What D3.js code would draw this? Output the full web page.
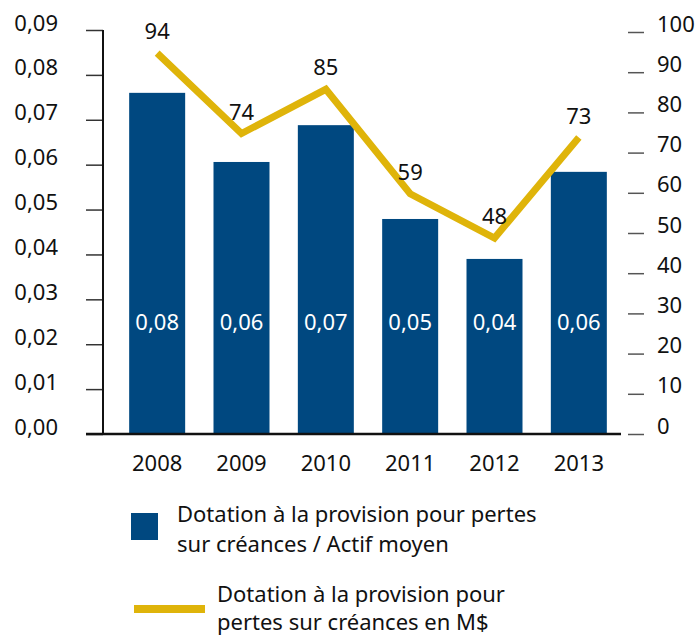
<!DOCTYPE html>
<html>
<head>
<meta charset="utf-8">
<script src="https://cdn.jsdelivr.net/npm/d3@7"></script>
<style>
  body { margin: 0; background: #fff; }
  svg { font-family: "Noto Sans", sans-serif; }
</style>
</head>
<body>
<div id="chart"></div>
<script>
const years = ["2008", "2009", "2010", "2011", "2012", "2013"];
const ratio = [0.076, 0.0606, 0.0688, 0.0479, 0.039, 0.0584];
const ratioLabels = ["0,08", "0,06", "0,07", "0,05", "0,04", "0,06"];
const provision = [94, 74, 85, 59, 48, 73];
const leftTicks = [0, 0.01, 0.02, 0.03, 0.04, 0.05, 0.06, 0.07, 0.08, 0.09];
const rightTicks = [0, 10, 20, 30, 40, 50, 60, 70, 80, 90, 100];
const legendBar = ["Dotation à la provision pour pertes", "sur créances / Actif moyen"];
const legendLine = ["Dotation à la provision pour", "pertes sur créances en M$"];

const barColor = "#004880";
const lineColor = "#dfb40a";
const width = 700;
const height = 636;
const fs = 22;

const svg = d3.select("#chart")
  .append("svg")
  .attr("width", width)
  .attr("height", height);

const x = d3.scaleBand()
  .domain(years)
  .range([115, 621])
  .paddingInner(0.336)
  .paddingOuter(0.168);

const yL = d3.scaleLinear().domain([0, 0.09]).range([434, 30]);
const yR = d3.scaleLinear().domain([0, 100]).range([434, 32]);
// the line itself sits a few pixels higher than the right ticks in the original
const yLine = d3.scaleLinear().domain([0, 100]).range([431, 29]);

const fmt = (d) => d3.format(".2f")(d).replace(".", ",");

// left axis
const leftAxis = svg.append("g")
  .attr("transform", "translate(103,0)")
  .call(d3.axisLeft(yL).tickValues(leftTicks).tickSize(17).tickFormat(fmt));
leftAxis.select(".domain").remove();
leftAxis.selectAll(".tick line").attr("stroke", "#333").attr("stroke-width", 1.5);
leftAxis.selectAll(".tick text")
  .attr("x", -45)
  .attr("y", -7)
  .attr("font-size", fs)
  .attr("fill", "#111")
  .attr("font-family", "Noto Sans");

svg.append("line")
  .attr("x1", 103).attr("x2", 103)
  .attr("y1", 30).attr("y2", 435)
  .attr("stroke", "#111").attr("stroke-width", 2);

// right axis
const rightAxis = svg.append("g")
  .attr("transform", "translate(628,0)")
  .call(d3.axisRight(yR).tickValues(rightTicks).tickSize(16).tickFormat(d3.format("d")));
rightAxis.select(".domain").remove();
rightAxis.selectAll(".tick line").attr("stroke", "#555").attr("stroke-width", 1.5);
rightAxis.selectAll(".tick text")
  .attr("x", 29)
  .attr("y", -8)
  .attr("font-size", fs)
  .attr("fill", "#111")
  .attr("font-family", "Noto Sans");

// bars
svg.append("g")
  .selectAll("rect")
  .data(years)
  .join("rect")
  .attr("x", (d) => x(d))
  .attr("width", x.bandwidth())
  .attr("y", (d, i) => yL(ratio[i]))
  .attr("height", (d, i) => yL(0) - yL(ratio[i]))
  .attr("fill", barColor);

svg.append("g")
  .selectAll("text")
  .data(years)
  .join("text")
  .attr("x", (d) => x(d) + x.bandwidth() / 2)
  .attr("y", yL(0.025) + 8)
  .attr("text-anchor", "middle")
  .attr("font-size", fs)
  .attr("fill", "#fff")
  .text((d, i) => ratioLabels[i]);

// baseline
svg.append("line")
  .attr("x1", 86).attr("x2", 621)
  .attr("y1", 434).attr("y2", 434)
  .attr("stroke", "#111").attr("stroke-width", 2.5);

// year labels
svg.append("g")
  .selectAll("text")
  .data(years)
  .join("text")
  .attr("x", (d) => x(d) + x.bandwidth() / 2)
  .attr("y", 471)
  .attr("text-anchor", "middle")
  .attr("font-size", fs)
  .attr("fill", "#111")
  .text((d) => d);

// line
const line = d3.line()
  .x((d, i) => x(years[i]) + x.bandwidth() / 2)
  .y((d) => yLine(d));

svg.append("path")
  .datum(provision)
  .attr("d", line)
  .attr("fill", "none")
  .attr("stroke", lineColor)
  .attr("stroke-width", 7)
  .attr("stroke-linejoin", "miter");

svg.append("g")
  .selectAll("text")
  .data(provision)
  .join("text")
  .attr("x", (d, i) => x(years[i]) + x.bandwidth() / 2)
  .attr("y", (d) => yLine(d) - 14)
  .attr("text-anchor", "middle")
  .attr("font-size", fs)
  .attr("fill", "#111")
  .text((d) => d);

// legend
svg.append("rect")
  .attr("x", 131).attr("y", 513)
  .attr("width", 27).attr("height", 27)
  .attr("fill", barColor);

svg.append("text")
  .attr("font-size", fs)
  .attr("fill", "#111")
  .selectAll("tspan")
  .data(legendBar)
  .join("tspan")
  .attr("x", 177)
  .attr("y", (d, i) => 522 + i * 30)
  .text((d) => d);

svg.append("line")
  .attr("x1", 134).attr("x2", 205)
  .attr("y1", 609).attr("y2", 609)
  .attr("stroke", lineColor)
  .attr("stroke-width", 8);

svg.append("text")
  .attr("font-size", fs)
  .attr("fill", "#111")
  .selectAll("tspan")
  .data(legendLine)
  .join("tspan")
  .attr("x", 217)
  .attr("y", (d, i) => 602 + i * 28)
  .text((d) => d);
</script>
</body>
</html>
